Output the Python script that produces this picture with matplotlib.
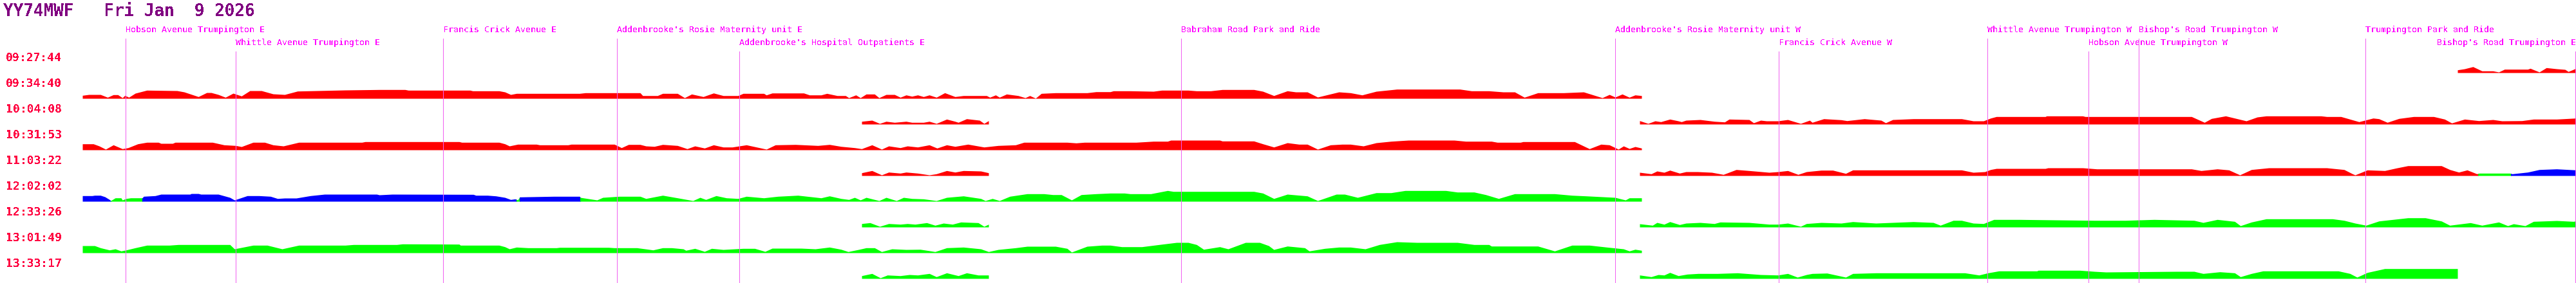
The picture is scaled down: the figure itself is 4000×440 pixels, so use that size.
import matplotlib.pyplot as plt
from matplotlib.patches import Rectangle

plt.rcParams["font.family"] = ["DejaVu Sans Mono", "DejaVu Sans"]
plt.rcParams["text.antialiased"] = False

# ---- data ----------------------------------------------------------------
VEHICLE = "YY74MWF"
DATE_TEXT = "Fri Jan  9 2026"

ROW_TIMES = ["09:27:44", "09:34:40", "10:04:08", "10:31:53", "11:03:22",
             "12:02:02", "12:33:26", "13:01:49", "13:33:17"]

STOP_NAMES = [
    "Hobson Avenue Trumpington E",
    "Whittle Avenue Trumpington E",
    "Francis Crick Avenue E",
    "Addenbrooke's Rosie Maternity unit E",
    "Addenbrooke's Hospital Outpatients E",
    "Babraham Road Park and Ride",
    "Addenbrooke's Rosie Maternity unit W",
    "Francis Crick Avenue W",
    "Whittle Avenue Trumpington W",
    "Hobson Avenue Trumpington W",
    "Bishop's Road Trumpington W",
    "Trumpington Park and Ride",
    "Bishop's Road Trumpington E",
]
STOP_POS = [195, 366, 688, 958, 1148, 1834, 2508, 2762, 3086, 3243, 3321, 3673, 3999]
STOP_TIER = [0, 1, 0, 0, 1, 0, 0, 1, 0, 1, 0, 0, 1]

# speed profiles: (route position, bar height)
ROW0_RIGHT = [(3816, 4.3), (3827, 6), (3840, 9.3), (3854, 2.7), (3871, 2.7), (3880, 1),
              (3889, 5.3), (3925, 5.3), (3929, 6.7), (3943, 1), (3954, 7.7), (3970, 6),
              (3983, 5), (3988, 1.7), (4000, 6.7)]

ROW1_LEFT = [(128, 4.7), (138, 6), (156, 6), (167, 1.7), (176, 5.7), (183, 5.7), (190, 1),
             (194, 4.7), (200, 1.7), (210, 8), (228, 12.7), (275, 12), (286, 10), (308, 2.7),
             (321, 9), (328, 9), (339, 6), (350, 1.7), (362, 8), (375, 3.7), (388, 12),
             (406, 12), (424, 7), (442, 6), (462, 11.3), (536, 13), (589, 13.7), (629, 13.7),
             (634, 12.7), (730, 12.7), (734, 11.7), (775, 11.7), (784, 10), (793, 6),
             (802, 7.7), (900, 7.7), (909, 8.7), (994, 8.7), (998, 4.3), (1021, 4.3),
             (1029, 7.7), (1052, 7.7), (1063, 1), (1074, 6.7), (1092, 2.7), (1108, 8.3),
             (1123, 4.3), (1146, 4.3), (1154, 7.7), (1186, 7.7), (1190, 5.3), (1199, 8.3),
             (1248, 8.3), (1257, 5.3), (1275, 5.3), (1284, 7.7), (1300, 4.3), (1313, 4.3),
             (1318, 1), (1329, 5.3), (1336, 1), (1345, 6.7), (1358, 6.7), (1365, 1),
             (1376, 6), (1389, 6), (1398, 1.7), (1407, 5.3), (1416, 3.3), (1425, 5.3),
             (1434, 2.7), (1443, 5.3), (1454, 1.7), (1467, 8.7), (1483, 2.7), (1496, 4.3),
             (1532, 4.3), (1537, 1.7), (1546, 5.3), (1552, 1.7), (1563, 6.7), (1581, 4.3),
             (1592, 1), (1599, 4.3), (1608, 0.3), (1617, 7.7), (1639, 8.7), (1688, 8.7),
             (1702, 10.3), (1724, 10.3), (1729, 11.7), (1755, 11.7), (1791, 11),
             (1804, 12.7), (1845, 12.7), (1858, 11.7), (1880, 11.7), (1898, 13.7),
             (1947, 13.7), (1961, 11), (1978, 4.3), (1999, 11.7), (2012, 10), (2030, 10),
             (2046, 2), (2079, 10), (2097, 8.7), (2115, 5.3), (2137, 11), (2169, 14.3),
             (2267, 14.3), (2285, 11.7), (2312, 11.7), (2334, 10), (2352, 10), (2367, 1.7),
             (2388, 8.7), (2428, 8.7), (2459, 10), (2488, 1), (2499, 6), (2508, 2),
             (2519, 6.7), (2530, 1.7), (2539, 5.3), (2549, 4.3)]

ROW2_MID = [(1338, 4.3), (1354, 6), (1366, 1), (1376, 4.3), (1389, 2.7), (1407, 4.3),
            (1416, 2.7), (1434, 2.7), (1443, 4.3), (1454, 1), (1470, 7.7), (1483, 4.3),
            (1488, 2.7), (1501, 8.3), (1521, 6), (1528, 1), (1535, 5.3)]

ROW2_RIGHT = [(2546, 5.3), (2559, 1), (2570, 5), (2579, 3.7), (2593, 7.7), (2606, 5),
              (2611, 3.7), (2618, 6), (2640, 7), (2662, 4.3), (2678, 3.3), (2685, 7.7),
              (2716, 7), (2723, 2), (2734, 6), (2743, 5), (2761, 5), (2776, 7), (2796, 1),
              (2810, 6), (2814, 2.7), (2832, 8.3), (2859, 6.7), (2868, 5.3), (2895, 8.3),
              (2921, 6), (2928, 2), (2939, 7), (2971, 8.3), (3046, 8.3), (3064, 5),
              (3080, 5), (3091, 9.3), (3100, 11.7), (3176, 11.7), (3178, 12.7), (3234, 12.7),
              (3238, 11.7), (3403, 11.7), (3423, 2.7), (3434, 8.7), (3456, 12.7), (3488, 5),
              (3505, 11), (3519, 12.7), (3604, 12.7), (3613, 11.7), (3635, 11.7), (3663, 3.7),
              (3685, 9.3), (3694, 8.3), (3707, 2.7), (3725, 8.7), (3748, 11.7), (3779, 11.7),
              (3796, 7.7), (3807, 1.7), (3827, 7.7), (3849, 5.3), (3871, 7), (3885, 5),
              (3916, 5.3), (3934, 7.7), (3970, 7.7), (4000, 9.3)]

ROW3_LEFT = [(128, 9.3), (145, 9.3), (154, 6), (164, 1), (176, 7.7), (190, 1.7), (199, 3.3),
             (214, 9.3), (228, 11.7), (246, 11.7), (250, 10), (268, 10), (272, 11.7),
             (330, 11.7), (348, 7.7), (366, 6.7), (375, 5), (393, 11.7), (411, 11.7),
             (424, 7.7), (440, 6), (464, 11.7), (562, 11.7), (567, 12.7), (713, 12.7),
             (717, 11.7), (775, 11.7), (784, 9.3), (791, 6), (804, 8.7), (833, 8.7),
             (838, 7.7), (882, 7.7), (887, 8.7), (954, 8.7), (965, 3.3), (976, 8.3),
             (994, 8.3), (1003, 6), (1016, 5.3), (1029, 8.3), (1052, 6.7), (1067, 1.7),
             (1079, 6), (1094, 2.7), (1108, 7.7), (1123, 4.3), (1137, 4.3), (1159, 7.7),
             (1190, 1), (1204, 7.7), (1235, 8.3), (1270, 6.7), (1288, 8.3), (1306, 5.3),
             (1327, 3.3), (1338, 1.7), (1354, 7.7), (1369, 1), (1380, 6), (1398, 3.3),
             (1409, 6), (1425, 4.3), (1443, 7.7), (1455, 2.7), (1470, 7.7), (1483, 5.3),
             (1503, 8.7), (1528, 4.3), (1550, 6.7), (1577, 7.7), (1590, 11.7), (1657, 11.7),
             (1671, 10.7), (1684, 11.7), (1764, 11.7), (1791, 13.3), (1813, 13.3),
             (1818, 15), (1894, 15), (1898, 13.7), (1947, 13.7), (1961, 9.3), (1978, 4.3),
             (1999, 11), (2017, 8.7), (2030, 8.7), (2046, 1), (2066, 7.7), (2084, 8.7),
             (2097, 8.7), (2117, 6), (2137, 11), (2160, 13.3), (2187, 15), (2258, 15),
             (2276, 13.3), (2316, 13.3), (2325, 11.7), (2361, 11.7), (2365, 12.7),
             (2445, 12.7), (2468, 1.7), (2486, 8.7), (2499, 7.7), (2513, 1), (2521, 6),
             (2530, 2), (2539, 5), (2549, 2.7)]

ROW4_MID = [(1338, 4.3), (1354, 7.7), (1369, 1), (1380, 5.3), (1398, 3.7), (1407, 5.3),
            (1425, 3.7), (1443, 1), (1454, 2.7), (1470, 7.7), (1483, 5.3), (1496, 7.7),
            (1523, 7), (1535, 4.3)]

ROW4_RIGHT = [(2546, 5), (2564, 2.7), (2573, 7), (2584, 5), (2593, 8.3), (2608, 3.7),
              (2618, 6), (2636, 6), (2658, 5), (2676, 1.7), (2696, 9.3), (2716, 7.7),
              (2747, 5), (2761, 6), (2776, 7.7), (2792, 1.7), (2805, 6), (2828, 8.3),
              (2846, 8.3), (2866, 3.3), (2877, 8.7), (3046, 8.7), (3064, 5), (3082, 6),
              (3091, 9.3), (3100, 11), (3176, 11), (3180, 12), (3234, 12), (3256, 10.3),
              (3403, 10.3), (3418, 7.7), (3443, 10.3), (3461, 8.7), (3478, 1), (3496, 9.3),
              (3523, 12), (3613, 12), (3640, 9.3), (3653, 2.7), (3657, 1), (3676, 8.7),
              (3703, 7.7), (3721, 11.7), (3739, 15.3), (3791, 15.3), (3804, 9.3),
              (3818, 5.3), (3831, 8.7), (3846, 2.7), (3850, 3.7), (3897, 3.7), (3901, 2.7),
              (3925, 5.3), (3943, 9.3), (3970, 10.3), (4000, 8.7)]

ROW5_LEFT = [(128, 8.7), (143, 8.7), (147, 9.3), (156, 9.3), (163, 7), (170, 2.7), (172, 1),
             (179, 5.3), (188, 5.3), (190, 2), (196, 4.3), (203, 5.3), (221, 5.3),
             (223, 7.7), (241, 8.7), (250, 11), (295, 11), (297, 12), (308, 12), (312, 11),
             (339, 11), (357, 6), (364, 2), (384, 8.7), (402, 8.7), (420, 7.7), (431, 4.3),
             (442, 5), (460, 5), (482, 8.7), (504, 11), (585, 11), (589, 10), (609, 11),
             (735, 10.7), (739, 9.3), (757, 9.3), (770, 8.3), (784, 6), (793, 2.7),
             (800, 3.7), (804, 2), (807, 6.7), (860, 7.7), (900, 7.7), (901, 6), (927, 2),
             (936, 6), (962, 7.7), (994, 7.7), (1003, 4.3), (1029, 9.3), (1052, 5.3),
             (1076, 1), (1087, 6), (1096, 2.7), (1112, 8.7), (1128, 5.3), (1146, 4.3),
             (1159, 7.7), (1186, 5.3), (1208, 7.7), (1239, 9.3), (1275, 5.3), (1288, 8.3),
             (1306, 4.3), (1318, 2.7), (1327, 6), (1336, 2), (1345, 6), (1365, 1),
             (1376, 6), (1392, 1), (1403, 6), (1416, 4.3), (1434, 3.7), (1454, 1),
             (1470, 6), (1496, 8.3), (1523, 4.3), (1530, 1), (1541, 4.3), (1552, 1),
             (1568, 7.7), (1595, 11.7), (1621, 11.7), (1635, 10.3), (1648, 10.3),
             (1664, 2), (1679, 10.3), (1702, 11.7), (1724, 12.7), (1746, 12.7),
             (1755, 11.7), (1787, 11.7), (1813, 16.7), (1822, 15.3), (1947, 15.3),
             (1961, 12.7), (1978, 4.3), (1999, 11), (2030, 8.3), (2046, 1), (2075, 11),
             (2088, 11), (2108, 6), (2137, 13.3), (2160, 13.3), (2182, 16.7), (2245, 16.7),
             (2263, 14.3), (2289, 14.3), (2307, 10.3), (2327, 4.3), (2352, 11.7),
             (2414, 11.7), (2441, 9.3), (2463, 8.3), (2508, 6), (2524, 2), (2530, 5.3),
             (2549, 5.3)]

ROW6_MID = [(1338, 5.3), (1351, 6.7), (1366, 1), (1380, 5.3), (1398, 4.3), (1409, 5.3),
            (1421, 4.3), (1439, 6.7), (1452, 2.7), (1465, 6), (1479, 4.3), (1492, 7.7),
            (1519, 6.7), (1528, 1), (1535, 4.3)]

ROW6_RIGHT = [(2546, 5), (2566, 2.7), (2573, 7), (2584, 4.3), (2593, 8.3), (2608, 3.7),
              (2618, 6), (2640, 7), (2662, 5.3), (2671, 7.7), (2716, 7), (2747, 4.3),
              (2761, 4.3), (2776, 6), (2796, 1), (2805, 5.3), (2828, 7), (2859, 6),
              (2877, 8.3), (2913, 6), (2930, 6.7), (2971, 8.3), (3002, 7), (3013, 2.7),
              (3033, 10.3), (3046, 10.3), (3064, 6), (3080, 5.3), (3096, 11.7), (3136, 11.7),
              (3252, 10.3), (3300, 10.3), (3345, 11.7), (3407, 10.3), (3421, 7),
              (3443, 11.7), (3470, 8.7), (3479, 2), (3496, 7.7), (3519, 12.7), (3622, 12.7),
              (3640, 10.3), (3657, 6), (3674, 2.7), (3694, 9.3), (3739, 14.3), (3766, 14.3),
              (3791, 9.3), (3804, 2.7), (3836, 6.7), (3854, 2.7), (3880, 7.7), (3894, 2),
              (3903, 5), (3921, 2), (3934, 8.7), (3970, 10), (3996, 8.7), (4000, 9.3)]

ROW7_LEFT = [(128, 11), (147, 11), (156, 7.7), (170, 4.3), (179, 6), (188, 2.7), (196, 4.3),
             (210, 7.7), (228, 11.7), (263, 11.7), (277, 12.7), (357, 12.7), (364, 6),
             (393, 11.7), (415, 11.7), (438, 6), (464, 11.7), (536, 11.7), (549, 12.7),
             (616, 12.7), (625, 13.7), (713, 13.3), (715, 11.7), (775, 11.7), (784, 9.3),
             (791, 6), (802, 8.7), (820, 7.7), (864, 7.7), (869, 8.3), (945, 8.3),
             (954, 7.7), (989, 7.7), (1007, 5.3), (1014, 4.3), (1029, 7.7), (1043, 7.7),
             (1061, 6), (1065, 3.7), (1079, 6.7), (1094, 2), (1105, 6.7), (1123, 5),
             (1154, 6.7), (1172, 6.7), (1188, 2), (1199, 7), (1244, 7), (1266, 6),
             (1288, 8.7), (1306, 5.3), (1317, 1.7), (1333, 5), (1345, 7.7), (1358, 7.7),
             (1369, 1.7), (1385, 6), (1407, 5), (1429, 5.3), (1452, 1.7), (1470, 7.7),
             (1496, 8.7), (1523, 6), (1535, 1.7), (1550, 5), (1577, 7.7), (1595, 10),
             (1639, 10), (1657, 6.7), (1664, 1), (1688, 10), (1711, 11.7), (1724, 11.7),
             (1742, 9.3), (1773, 9.3), (1800, 12.7), (1827, 16), (1845, 16), (1858, 12.7),
             (1869, 5.3), (1894, 9.3), (1907, 6), (1934, 16), (1956, 16), (1970, 11),
             (1978, 5), (1999, 10.3), (2026, 7.7), (2033, 2.7), (2057, 6.7), (2079, 8.7),
             (2097, 8.7), (2120, 6), (2142, 12.7), (2169, 17), (2200, 16), (2263, 16),
             (2289, 12.7), (2312, 12.7), (2316, 10.3), (2388, 10.3), (2414, 2.7),
             (2441, 11.7), (2468, 11.7), (2495, 8.7), (2521, 6), (2530, 2.7), (2539, 5.3),
             (2549, 3.7)]

ROW8_MID = [(1338, 4.3), (1354, 7.7), (1367, 1), (1378, 5.3), (1398, 4.3), (1412, 6),
            (1425, 5.3), (1443, 7.7), (1454, 2.7), (1470, 8.7), (1488, 4.3), (1501, 8.7),
            (1519, 5.3), (1535, 5.3)]

ROW8_RIGHT = [(2546, 5.3), (2564, 2.7), (2575, 6), (2584, 5.3), (2593, 9.3), (2606, 4.3),
              (2620, 6.7), (2637, 7.7), (2667, 7.7), (2698, 8.7), (2734, 6), (2761, 5.3),
              (2776, 7.7), (2791, 2), (2805, 6), (2814, 7.7), (2837, 8.3), (2866, 2),
              (2877, 7.7), (2913, 8.7), (3051, 8.7), (3073, 5.3), (3087, 8.7), (3104, 11.7),
              (3163, 11.7), (3165, 12.7), (3229, 12.7), (3252, 11), (3270, 10), (3380, 11),
              (3407, 11), (3421, 7.7), (3447, 10.3), (3470, 8.7), (3479, 2.7), (3496, 7.7),
              (3514, 11.7), (3631, 11.7), (3649, 7.7), (3660, 2), (3676, 9.3), (3703, 15.3),
              (3816, 15.3)]

# colour of each stretch: (from, to, colour)
ROW4_RIGHT_SPANS = [(2546, 3848, "red"), (3848, 3899, "green"), (3899, 4000, "blue")]
ROW5_LEFT_SPANS = [(128, 172, "blue"), (172, 221, "green"), (221, 802, "blue"),
                   (802, 807, "green"), (807, 901, "blue"), (901, 2549, "green")]

BARS = [
    (0, ROW0_RIGHT, "red"),
    (1, ROW1_LEFT, "red"),
    (2, ROW2_MID, "red"),
    (2, ROW2_RIGHT, "red"),
    (3, ROW3_LEFT, "red"),
    (4, ROW4_MID, "red"),
    (4, ROW4_RIGHT, ROW4_RIGHT_SPANS),
    (5, ROW5_LEFT, ROW5_LEFT_SPANS),
    (6, ROW6_MID, "green"),
    (6, ROW6_RIGHT, "green"),
    (7, ROW7_LEFT, "green"),
    (8, ROW8_MID, "green"),
    (8, ROW8_RIGHT, "green"),
]

# ---- look ----------------------------------------------------------------
COLOURS = {"red": "#ff0000", "green": "#00ff00", "blue": "#0000ff"}
TITLE_COLOUR = "#800080"
TIME_COLOUR = "#ff0040"
STOP_TEXT_COLOUR = "#ff00ff"
STOP_LINE_COLOUR = "#f060f0"

WIDTH, HEIGHT = 4000, 440
ROW_TOP = 80        # top of first time label
ROW_PITCH = 40
BAR_DROP = 33       # from label top to bar baseline


def bar_base(row):
    return ROW_TOP + row * ROW_PITCH + BAR_DROP


def draw_bar(ax, row, profile, colour):
    xs = [p[0] for p in profile]
    hs = [p[1] for p in profile]
    base = bar_base(row)
    tops = [base - h for h in hs]
    spans = [(xs[0], xs[-1], colour)] if isinstance(colour, str) else colour
    for x0, x1, name in spans:
        poly = ax.fill_between(xs, base, tops, color=COLOURS[name],
                               linewidth=0, antialiased=False, zorder=2)
        clip = Rectangle((x0, base - 25), x1 - x0, 25, transform=ax.transData)
        poly.set_clip_path(clip)


def main():
    fig = plt.figure(figsize=(WIDTH / 100, HEIGHT / 100), dpi=100)
    ax = fig.add_axes([0, 0, 1, 1])
    ax.set_xlim(0, WIDTH)
    ax.set_ylim(HEIGHT, 0)
    ax.axis("off")

    ax.text(5, 25, f"{VEHICLE}   {DATE_TEXT}", color=TITLE_COLOUR,
            fontsize=18.7, fontweight="bold", va="baseline", ha="left")

    for k, t in enumerate(ROW_TIMES):
        ax.text(9, ROW_TOP + k * ROW_PITCH + 15, t, color=TIME_COLOUR,
                fontsize=13, fontweight="bold", va="baseline", ha="left")

    renderer = fig.canvas.get_renderer()
    for name, x, tier in zip(STOP_NAMES, STOP_POS, STOP_TIER):
        ax.vlines(x, 60 + 20 * tier, HEIGHT, color=STOP_LINE_COLOUR,
                  linewidth=0.72, antialiased=False, zorder=3)
        label = ax.text(x, 50 + 20 * tier, name, color=STOP_TEXT_COLOUR,
                        fontsize=9.5, va="baseline", ha="left")
        if label.get_window_extent(renderer).x1 > WIDTH:
            label.set_x(WIDTH)
            label.set_ha("right")

    for row, profile, colour in BARS:
        draw_bar(ax, row, profile, colour)

    fig.savefig("out.png", dpi=100, facecolor="white")


if __name__ == "__main__":
    main()
